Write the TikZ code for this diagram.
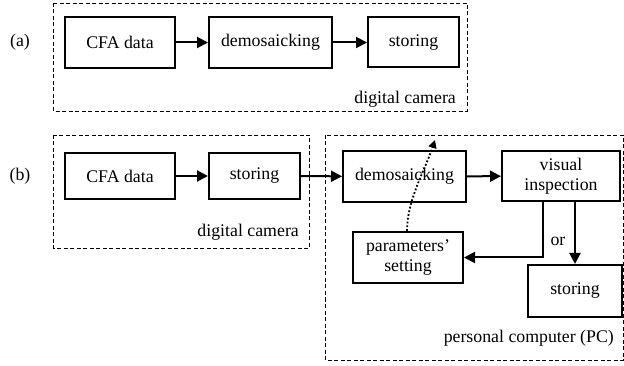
\documentclass[tikz,border=0pt]{standalone}
\usepackage{fontspec}
\setmainfont{Liberation Serif}
\usetikzlibrary{arrows.meta}
\tikzset{
  blk/.style={draw,line width=2pt,rectangle,minimum height=51pt,align=center,inner sep=2pt},
  grp/.style={draw,dashed,line width=0.9pt,dash pattern=on 4pt off 2.5pt},
  flow/.style={line width=2pt,-{Triangle[length=11pt,width=11pt]}},
  txt/.style={inner sep=0pt}
}
\begin{document}
\begin{tikzpicture}[x=1pt,y=-1pt,font=\fontsize{17.8}{20}\selectfont]
\useasboundingbox (0,0) rectangle (624,366);
\node[txt] (la) at (20,42) {(a)};
\draw[grp] (53,3) rectangle (467,111);
\node[blk,minimum width=110pt] (cfaA) at (120,42.5) {CFA data};
\node[blk,minimum width=123pt] (demA) at (270.5,42.5) {demosaicking};
\node[blk,minimum width=91pt,minimum height=50pt] (stoA) at (413.5,42.5) {storing};
\node[txt,anchor=east] (camA) at (456,99) {digital camera};
\draw[flow] (cfaA) -- (demA);
\draw[flow] (demA) -- (stoA);

\node[txt] (lb) at (20,176) {(b)};
\draw[grp] (53,135) rectangle (309,248);
\draw[grp] (325,135) rectangle (623,360);
\node[blk,minimum width=110pt,minimum height=46pt] (cfaB) at (120,176) {CFA data};
\node[blk,minimum width=91pt,minimum height=46pt] (stoB) at (254.5,176) {storing};
\node[txt,anchor=east] (camB) at (299,232) {digital camera};
\node[blk,minimum width=123pt] (demB) at (404.5,176.5) {demosaicking};
\node[blk,minimum width=118pt,minimum height=50pt] (visB) at (561,176) {visual\\inspection};
\node[blk,minimum width=110pt] (parB) at (408,257.5) {parameters'\\setting};
\node[blk,minimum width=94pt,minimum height=52pt] (stoC) at (575,291) {storing};
\node[txt] (or) at (558,241) {or};
\node[txt,anchor=east] (pc) at (614,338) {personal computer (PC)};
\draw[flow] (cfaB) -- (stoB);
\draw[flow] (stoB) -- (demB);
\draw[flow] (demB) -- (visB);
\draw[flow] ([xshift=-18pt]visB.south) |- (parB.east);
\draw[flow] (visB.south -| stoC.north) -- (stoC.north);
\draw[line width=1.8pt,dotted,-{Triangle[length=8pt,width=8pt]}] (parB.north -| 407,0) .. controls (407,200) and (425,170) .. (435,140);
\end{tikzpicture}
\end{document}
